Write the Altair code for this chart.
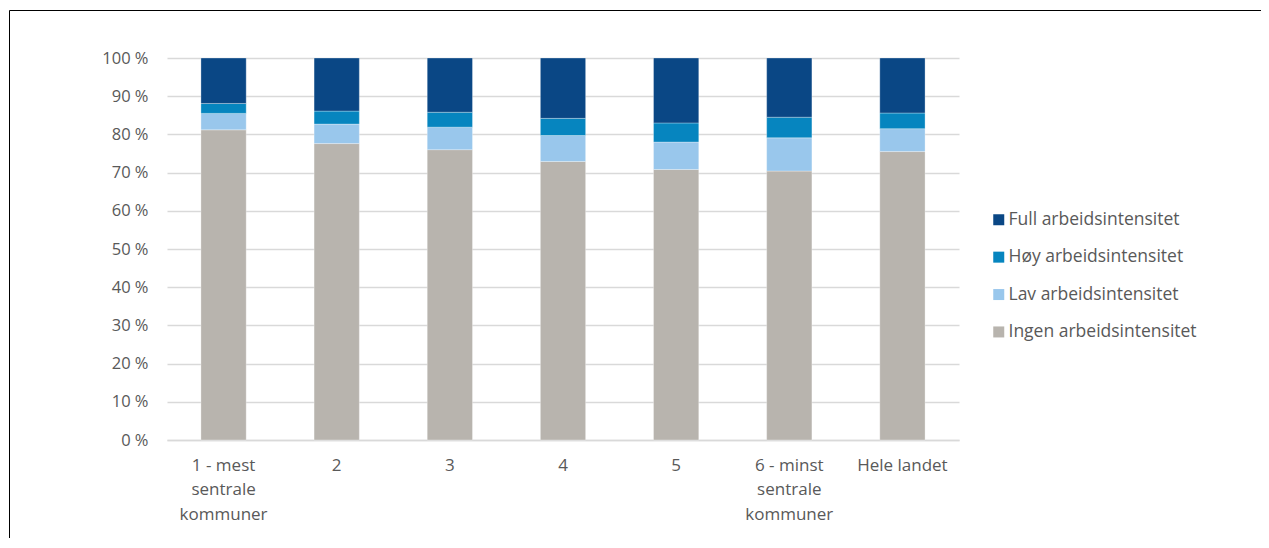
import altair as alt
import pandas as pd

categories = ["1 - mest|sentrale|kommuner", "2", "3", "4", "5", "6 - minst|sentrale|kommuner", "Hele landet"]
series = ["Full arbeidsintensitet", "Høy arbeidsintensitet", "Lav arbeidsintensitet", "Ingen arbeidsintensitet"]
colors = ["#0a4785", "#0685bf", "#99c7ec", "#b8b4ae"]

ingen = [81.2, 77.6, 76.0, 72.9, 70.8, 70.4, 75.5]
lav = [4.3, 5.1, 5.9, 6.8, 7.2, 8.7, 6.0]
hoy = [2.6, 3.4, 3.9, 4.5, 5.0, 5.4, 4.1]
full = [11.9, 13.9, 14.2, 15.8, 17.0, 15.5, 14.4]

y_ticks = [0, 10, 20, 30, 40, 50, 60, 70, 80, 90, 100]

rows = []
for name, vals, order in [
    ("Ingen arbeidsintensitet", ingen, 0),
    ("Lav arbeidsintensitet", lav, 1),
    ("Høy arbeidsintensitet", hoy, 2),
    ("Full arbeidsintensitet", full, 3),
]:
    for c, v in zip(categories, vals):
        rows.append({"kategori": c, "serie": name, "verdi": v, "ord": order})
df = pd.DataFrame(rows)

FONT = "Open Sans"
TXT = "#595959"

bars = alt.Chart(df).mark_bar(stroke="white", strokeWidth=0.5, strokeOpacity=0.6).encode(
    x=alt.X(
        "kategori:N",
        sort=categories,
        title=None,
        scale=alt.Scale(paddingInner=0.6, paddingOuter=0.3),
        axis=alt.Axis(
            labelExpr="split(datum.label, '|')",
            labelAngle=0,
            labelFont=FONT,
            labelFontSize=17,
            labelColor=TXT,
            labelPadding=17,
            labelLineHeight=24.5,
            ticks=False,
            domainColor="#d9d9d9",
            domainWidth=1.5,
            grid=False,
        ),
    ),
    y=alt.Y(
        "verdi:Q",
        stack="zero",
        title=None,
        scale=alt.Scale(domain=[0, 100], nice=False),
        axis=alt.Axis(
            values=y_ticks,
            labelExpr="datum.value + ' %'",
            labelFont=FONT,
            labelFontSize=16.5,
            labelColor=TXT,
            labelPadding=19,
            ticks=False,
            domain=False,
            grid=True,
            gridColor="#d9d9d9",
            gridWidth=1.5,
        ),
    ),
    color=alt.Color(
        "serie:N",
        scale=alt.Scale(domain=series, range=colors),
        legend=alt.Legend(
            title=None,
            orient="none",
            legendX=823,
            legendY=153,
            symbolType="square",
            symbolSize=121,
            symbolStrokeWidth=0,
            labelFont=FONT,
            labelFontSize=17.5,
            labelColor=TXT,
            labelOffset=1,
            labelLimit=400,
            rowPadding=18.4,
        ),
    ),
    order=alt.Order("ord:Q", sort="ascending"),
)

border = alt.Chart(pd.DataFrame({"a": [0]})).mark_rect(
    filled=False, stroke="#000000", strokeWidth=1, clip=False
).encode(
    x=alt.value(-157.5), x2=alt.value(1300), y=alt.value(-47.5), y2=alt.value(700)
)

chart = alt.layer(border, bars).properties(
    width=792,
    height=382,
    autosize=alt.AutoSizeParams(type="none"),
    padding={"left": 159, "top": 50, "right": 302, "bottom": 98},
    background="white",
).configure_view(stroke=None)

chart.save("out.html", embed_options={"renderer": "svg", "actions": False})
